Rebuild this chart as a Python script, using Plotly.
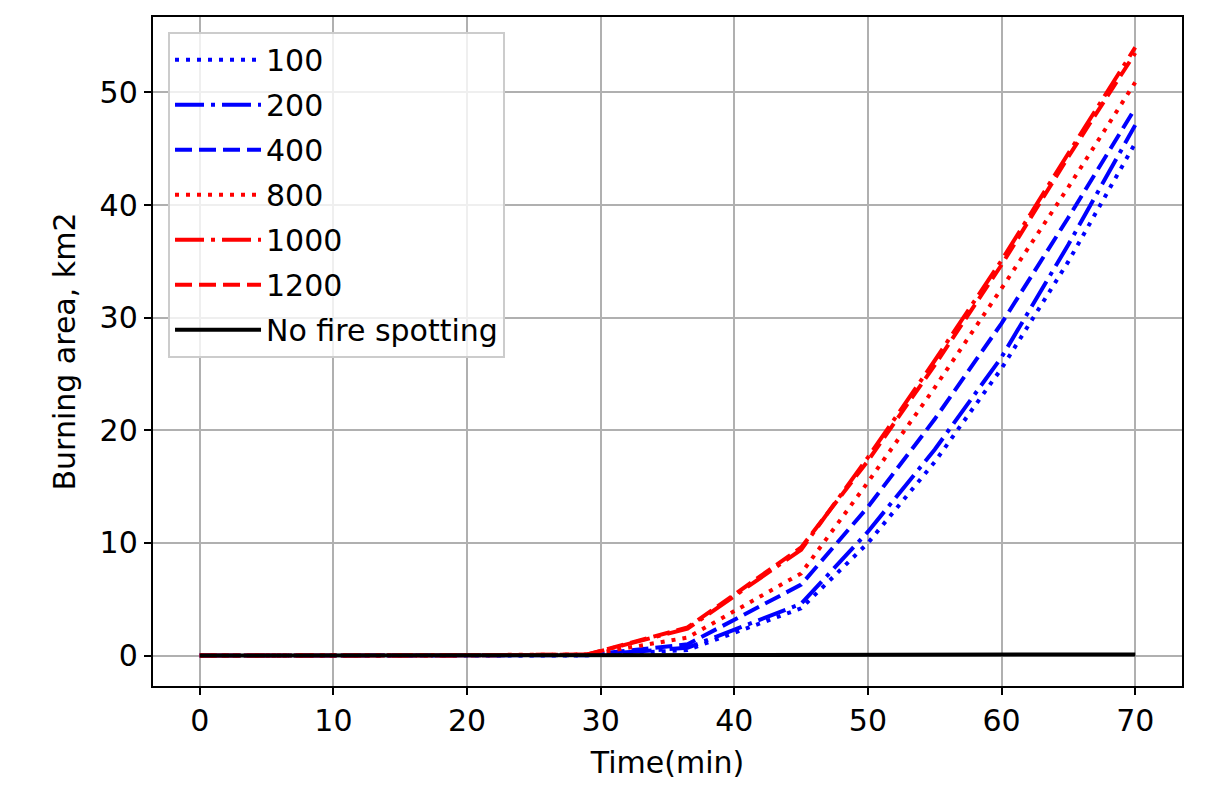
import plotly.graph_objects as go

time_min = [0, 10, 20, 29, 36.5, 45, 50, 55, 60, 65, 70]

series_labels = ["100", "200", "400", "800", "1000", "1200", "No fire spotting"]
area_100 = [0, 0, 0, 0.02, 0.5, 4.2, 10.0, 17.2, 25.5, 35.0, 45.5]
area_200 = [0, 0, 0, 0.03, 0.7, 4.6, 11.0, 18.3, 26.5, 36.5, 47.1]
area_400 = [0, 0, 0.01, 0.05, 1.0, 6.3, 13.2, 21.0, 29.5, 38.9, 48.6]
area_800 = [0, 0, 0.01, 0.08, 1.6, 7.3, 15.4, 23.8, 32.6, 41.6, 50.9]
area_1000 = [0, 0, 0.02, 0.1, 2.4, 9.4, 17.6, 26.2, 35.1, 44.6, 54.0]
area_1200 = [0, 0, 0.02, 0.1, 2.5, 9.6, 17.3, 25.8, 34.7, 44.3, 53.5]
area_none = [0, 0.01, 0.02, 0.03, 0.04, 0.05, 0.06, 0.07, 0.08, 0.09, 0.1]

x_ticks = [0, 10, 20, 30, 40, 50, 60, 70]
y_ticks = [0, 10, 20, 30, 40, 50]

all_series = [area_100, area_200, area_400, area_800, area_1000, area_1200, area_none]
colors = ["blue", "blue", "blue", "red", "red", "red", "black"]
lw = 4
dot = "4px,7px"
dash = "17px,7px"
dashdot = "29px,7px,4px,7px"
dashes = [dot, dashdot, dash, dot, dashdot, dash, "solid"]

fig = go.Figure()
for i, (lab, ys) in enumerate(zip(series_labels, all_series)):
    fig.add_trace(go.Scatter(
        x=time_min, y=ys, mode="lines", name=lab, legendgroup=f"g{i}",
        line=dict(color=colors[i], width=lw, dash=dashes[i]),
    ))

font = dict(family="DejaVu Sans", size=30, color="black")
axis_common = dict(
    showgrid=True, gridcolor="#b0b0b0", gridwidth=2.4,
    showline=True, linecolor="black", linewidth=2.4, mirror=True,
    ticks="outside", ticklen=7, tickwidth=2.4, tickcolor="black",
    zeroline=False, tickfont=font, automargin=False,
)
fig.update_layout(
    width=1207, height=809,
    margin=dict(l=145, r=33, t=9, b=131),
    paper_bgcolor="white", plot_bgcolor="white",
    font=font,
    xaxis=dict(range=[-3.5, 73.5], tickvals=x_ticks,
               title=dict(text="Time(min)", font=font, standoff=15), **axis_common),
    yaxis=dict(range=[-2.7, 56.7], tickvals=y_ticks,
               title=dict(text="Burning area, km2", font=font, standoff=15), **axis_common),
    legend=dict(x=0.0146, y=0.978, xanchor="left", yanchor="top",
                bgcolor="rgba(255,255,255,0.8)", bordercolor="#cccccc", borderwidth=2,
                font=font, tracegroupgap=3, itemwidth=86),
    showlegend=True,
)
fig.write_html("out.html")
